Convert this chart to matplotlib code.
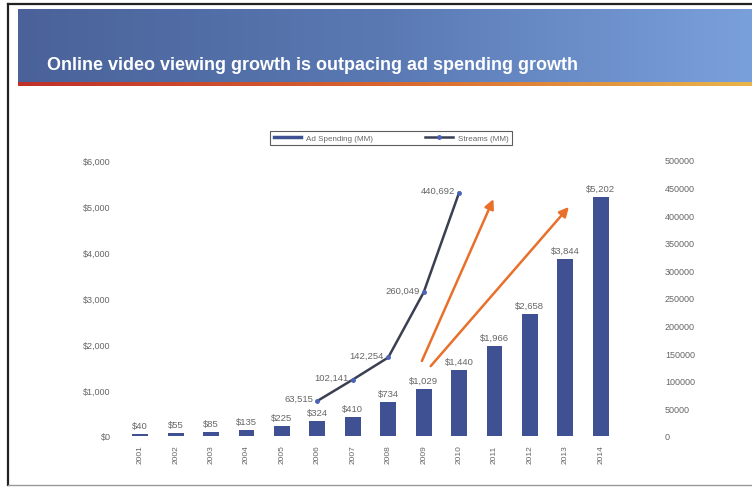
import numpy as np
import matplotlib.pyplot as plt
from matplotlib.colors import LinearSegmentedColormap
from matplotlib.lines import Line2D

plt.rcParams['font.family'] = ['Liberation Sans', 'DejaVu Sans']

years = ['2001', '2002', '2003', '2004', '2005', '2006', '2007',
         '2008', '2009', '2010', '2011', '2012', '2013', '2014']
ad_spending = [40, 55, 85, 135, 225, 324, 410, 734, 1029, 1440, 1966, 2658, 3844, 5202]

stream_years = ['2006', '2007', '2008', '2009', '2010']
streams = [63515, 102141, 142254, 260049, 440692]

left_ticks = [0, 1000, 2000, 3000, 4000, 5000, 6000]
right_ticks = [0, 50000, 100000, 150000, 200000, 250000, 300000,
               350000, 400000, 450000, 500000]

bar_color = '#3f5193'
line_color = '#3a3f52'
dot_color = '#4a63b8'
arrow_color = '#e8702a'
text_color = '#666666'

fig = plt.figure(figsize=(7.52, 4.89), dpi=100)

# frame around the slide
frame = fig.add_axes([0, 0, 1, 1])
frame.axis('off')
frame.plot([8, 8], [5, 486], color='#222222', lw=1.6)
frame.plot([8, 752], [5, 5], color='#222222', lw=1.6)
frame.plot([8, 752], [486, 486], color='#999999', lw=1.0)

# title banner with a horizontal gradient
banner_cmap = LinearSegmentedColormap.from_list('banner', ['#4a6299', '#5a79b3', '#7aa0dc'])
grad = np.linspace(0, 1, 256).reshape(1, -1)
frame.imshow(grad, cmap=banner_cmap, extent=[18, 752, 83, 10], aspect='auto', zorder=1)
strip_cmap = LinearSegmentedColormap.from_list('strip', ['#c0302a', '#d8652e', '#e9b54a'])
frame.imshow(grad, cmap=strip_cmap, extent=[18, 752, 87, 83], aspect='auto', zorder=1)
frame.set_xlim(0, 752)
frame.set_ylim(489, 0)
frame.text(47, 66, 'Online video viewing growth is outpacing ad spending growth',
           color='white', fontsize=13, fontweight='bold', va='center', ha='left', zorder=2)

# main chart
ax = fig.add_axes([119 / 752, 1 - 437 / 489, 503 / 752, 276 / 489])
x = np.arange(len(years))
ax.bar(x, ad_spending, width=0.45, color=bar_color, zorder=2)
ax.set_xlim(-0.6, len(years) - 0.4)
ax.set_ylim(0, 6000)
ax.set_yticks(left_ticks)
ax.set_yticklabels(['$0' if v == 0 else '${:,}'.format(v) for v in left_ticks])
ax.set_xticks(x)
ax.set_xticklabels(years, rotation=90)
ax.tick_params(axis='y', length=0, pad=6, labelsize=6.5, labelcolor=text_color)
ax.tick_params(axis='x', length=0, pad=6, labelsize=6, labelcolor=text_color)
for s in ax.spines.values():
    s.set_visible(False)

for xi, v in zip(x, ad_spending):
    ax.text(xi, v + 90, '${:,}'.format(v), ha='center', va='bottom',
            fontsize=6.8, color=text_color)

ax2 = ax.twinx()
ax2.set_ylim(0, 500000)
ax2.set_yticks(right_ticks)
ax2.set_yticklabels([str(v) for v in right_ticks])
ax2.tick_params(axis='y', length=0, pad=31, labelsize=6.5, labelcolor=text_color)
for s in ax2.spines.values():
    s.set_visible(False)

sx = [years.index(y) for y in stream_years]
ax2.plot(sx, streams, color=line_color, lw=1.8, zorder=3)
ax2.plot(sx, streams, 'o', color=dot_color, ms=2.5, zorder=4)
for xi, v in zip(sx, streams):
    ax2.text(xi - 0.12, v + 4000, '{:,}'.format(v), ha='right', va='center',
             fontsize=6.8, color=text_color)

# growth arrows
ax.annotate('', xy=(9.97, 5150), xytext=(7.95, 1630),
            arrowprops=dict(arrowstyle='-|>', color=arrow_color, lw=1.8,
                            mutation_scale=14, shrinkA=0, shrinkB=0), zorder=5)
ax.annotate('', xy=(12.1, 4980), xytext=(8.2, 1520),
            arrowprops=dict(arrowstyle='-|>', color=arrow_color, lw=1.8,
                            mutation_scale=14, shrinkA=0, shrinkB=0), zorder=5)

handles = [Line2D([0], [0], color=bar_color, lw=2.5),
           Line2D([0], [0], color=line_color, lw=1.8, marker='o',
                  markersize=2.5, markerfacecolor=dot_color, markeredgecolor=dot_color)]
leg = fig.legend(handles, ['Ad Spending (MM)', 'Streams (MM)'], loc='center',
                 bbox_to_anchor=(391 / 752, 1 - 139 / 489), ncol=2, fontsize=5.8,
                 frameon=True, fancybox=False, edgecolor='#333333',
                 handlelength=3.4, handletextpad=0.6, columnspacing=6.5,
                 borderpad=0.45, borderaxespad=0)
leg.get_frame().set_linewidth(0.8)
for t in leg.get_texts():
    t.set_color(text_color)

fig.savefig('out.png', dpi=100)
